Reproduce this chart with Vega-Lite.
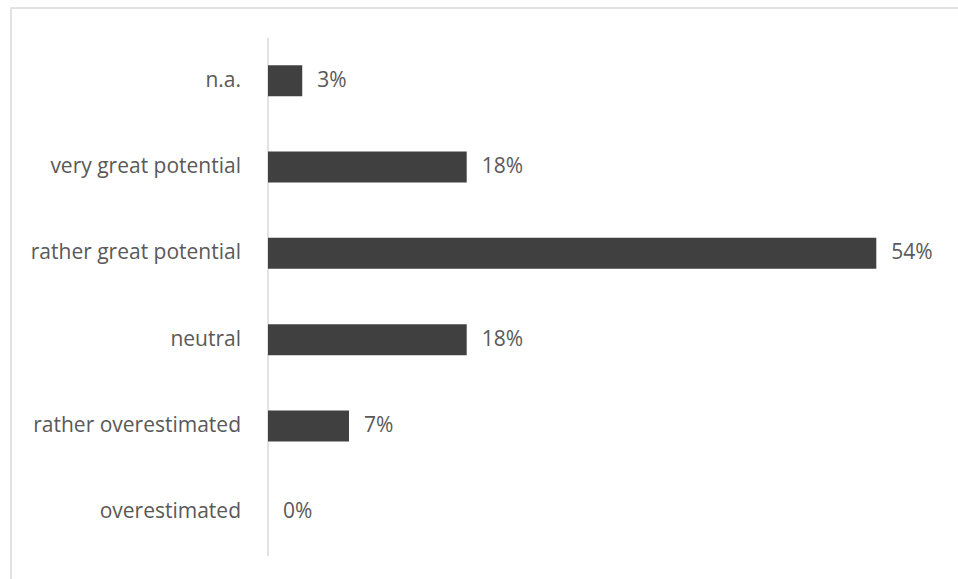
{
  "$schema": "https://vega.github.io/schema/vega-lite/v6.json",
  "autosize": {"type": "none"},
  "padding": {"left": 11, "top": 8, "right": 0, "bottom": 0},
  "width": 1000,
  "height": 600,
  "background": "white",
  "config": {
    "view": {"stroke": "#d9d9d9", "strokeWidth": 1.5},
    "font": "Open Sans"
  },
  "data": {
    "values": [
      {"category": "n.a.", "share": 0.0304},
      {"category": "very great potential", "share": 0.1764},
      {"category": "rather great potential", "share": 0.54},
      {"category": "neutral", "share": 0.1764},
      {"category": "rather overestimated", "share": 0.0719},
      {"category": "overestimated", "share": 0.0}
    ]
  },
  "encoding": {
    "y": {
      "field": "category",
      "type": "nominal",
      "sort": null,
      "scale": {"range": [29.5, 547.5], "paddingInner": 0.64, "paddingOuter": 0.32},
      "axis": {
        "title": null,
        "offset": -256.5,
        "domain": true,
        "domainColor": "#d9d9d9",
        "domainWidth": 1.5,
        "ticks": false,
        "grid": false,
        "labelPadding": 27,
        "labelFontSize": 21,
        "labelLimit": 0,
        "labelColor": "#595959",
        "labelFont": "Open Sans"
      }
    },
    "x": {
      "field": "share",
      "type": "quantitative",
      "scale": {"domain": [0, 1], "range": [257, 1383.5], "nice": false, "zero": true},
      "axis": null
    }
  },
  "layer": [
    {"mark": {"type": "bar", "color": "#404040"}},
    {
      "mark": {"type": "text", "align": "left", "baseline": "middle", "dx": 15, "fontSize": 21, "color": "#595959", "font": "Open Sans"},
      "encoding": {"text": {"field": "share", "type": "quantitative", "format": ".0%"}}
    }
  ]
}
